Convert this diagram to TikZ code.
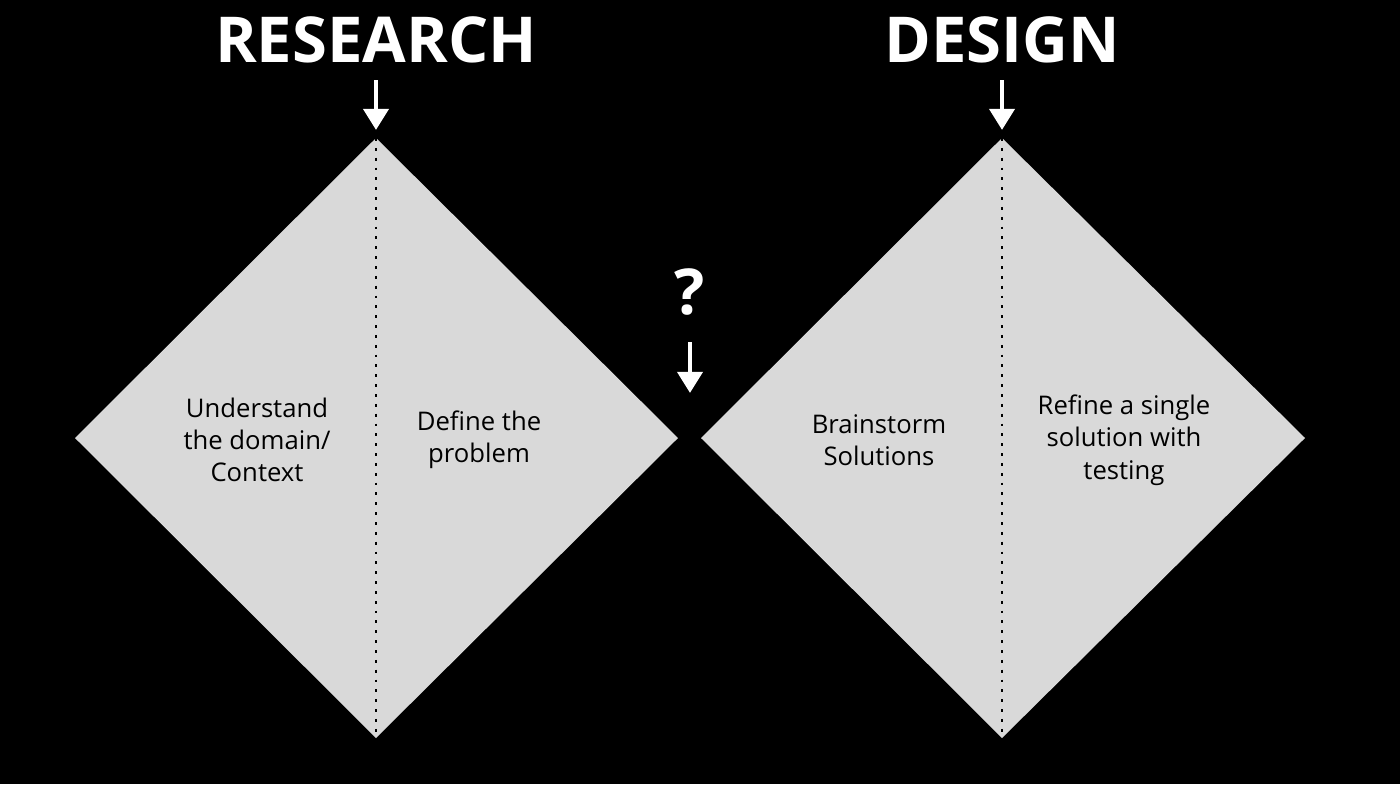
\documentclass[tikz,border=0pt]{standalone}
\usepackage{fontspec}
\setmainfont{Open Sans}
\usetikzlibrary{arrows.meta}
\begin{document}
\begin{tikzpicture}[x=0.01cm,y=-0.01cm,
	title/.style={text=white,font=\fontsize{18pt}{20pt}\selectfont\bfseries},
	label/.style={text=black,font=\fontsize{7.3pt}{9.2pt}\selectfont,align=center},
	down/.style={draw=white,line width=1.4pt,-{Triangle[length=6pt,width=7pt]}}]
	\useasboundingbox[fill=black] (0,0) rectangle (1400,784);
	% diamonds
	\fill[black!15] (376,138)--(678,438)--(376,738)--(75,438)--cycle;
	\fill[black!15] (1002,138)--(1305,438)--(1002,738)--(701,438)--cycle;
	\coordinate (rtop) at (376,138); \coordinate (rbot) at (376,738);
	\coordinate (dtop) at (1002,138); \coordinate (dbot) at (1002,738);
	\draw[dotted,thick] (rtop)--(rbot);
	\draw[dotted,thick] (dtop)--(dbot);
	% titles
	\node[title] (research) at (376,40) {RESEARCH};
	\node[title] (design) at (1002,40) {DESIGN};
	\node[title] (quest) at (690,292) {?};
	\coordinate (ra) at (376,80); \coordinate (rb) at (376,130);
	\coordinate (da) at (1002,80); \coordinate (db) at (1002,130);
	\coordinate (qa) at (690,342); \coordinate (qb) at (690,393);
	\draw[down] (ra)--(rb);
	\draw[down] (da)--(db);
	\draw[down] (qa)--(qb);
	% labels
	\node[label] (understand) at (257,440) {Understand\\the domain/\\Context};
	\node[label] (define) at (479,440) {Define the\\problem};
	\node[label] (brain) at (879,440) {Brainstorm\\Solutions};
	\node[label] (refine) at (1124,440) {Refine a single\\solution with\\testing};
\end{tikzpicture}
\end{document}
